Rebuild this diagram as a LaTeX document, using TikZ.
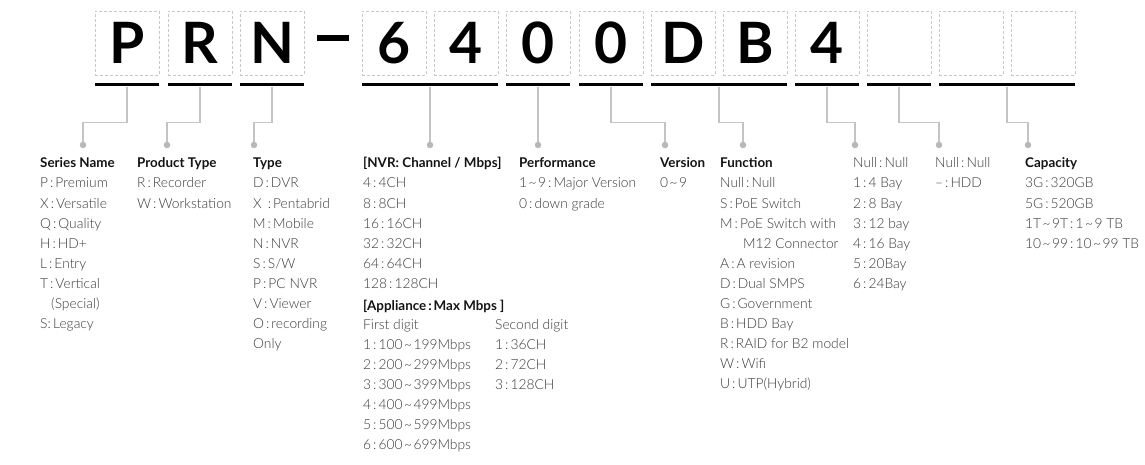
\documentclass[tikz,border=0pt]{standalone}
\usepackage{fontspec}
\setmainfont{Lato}
\IfFontExistsTF{Lato Light}
    {\newfontfamily\listfont{Lato Light}}
    {\newfontfamily\listfont{Lato}}
\usetikzlibrary{positioning}
\definecolor{ink}{RGB}{20,20,20}
\definecolor{body}{RGB}{58,58,58}
\definecolor{slotline}{RGB}{200,200,200}
\definecolor{leaderline}{RGB}{196,196,196}
\definecolor{dotfill}{RGB}{184,184,188}
\newcommand{\wave}{\kern1.5pt\textasciitilde\kern1.5pt}
\newcommand{\cl}{\kern2pt:\kern2pt}
\tikzset{
    slot/.style={
        draw=slotline,
        dash pattern=on 3pt off 2pt,
        line width=0.9pt,
        minimum width=64pt,
        minimum height=64pt,
        inner sep=0pt,
        font=\bfseries\fontsize{57}{57}\selectfont,
        text=black
    },
    bar/.style={
        fill=black,
        inner sep=0pt,
        minimum height=3pt
    },
    leader/.style={
        draw=leaderline,
        line width=1.2pt
    },
    tapdot/.style={
        circle,
        fill=dotfill,
        inner sep=0pt,
        minimum size=6.5pt
    },
    head/.style={
        font=\bfseries\fontsize{13.4}{15}\selectfont,
        text=ink,
        anchor=base west,
        inner sep=0pt
    },
    item/.style={
        font=\listfont\fontsize{13.8}{15}\selectfont,
        text=body,
        anchor=base west,
        inner sep=0pt
    }
}

\begin{document}
\begin{tikzpicture}[x=1pt, y=-1pt]

\path[fill=white, use as bounding box] (0,0) rectangle (1145,465);

% Code slots
\node[slot] (s1) at (127,43) {P};
\node[slot] (s2) at (200,43) {R};
\node[slot] (s3) at (272,43) {N};
\node[bar, minimum width=32pt, minimum height=6pt] (hyph) at (333,38) {};
\node[slot] (s4) at (394,43) {6};
\node[slot] (s5) at (466,43) {4};
\node[slot] (s6) at (538,43) {0};
\node[slot] (s7) at (611,43) {0};
\node[slot] (s8) at (683,43) {D};
\node[slot] (s9) at (755,43) {B};
\node[slot] (s10) at (827,43) {4};
\node[slot] (s11) at (899,43) {};
\node[slot] (s12) at (971,43) {};
\node[slot] (s13) at (1043,43) {};

% Underlines
\node[bar, minimum width=64pt] (u1) at (127,85) {};
\node[bar, minimum width=64pt] (u2) at (200,85) {};
\node[bar, minimum width=64pt] (u3) at (272,85) {};
\node[bar, minimum width=136pt] (u4) at (430,85) {};
\node[bar, minimum width=64pt] (u5) at (538,85) {};
\node[bar, minimum width=64pt] (u6) at (611,85) {};
\node[bar, minimum width=136pt] (u7) at (719,85) {};
\node[bar, minimum width=64pt] (u8) at (827,85) {};
\node[bar, minimum width=64pt] (u9) at (899,85) {};
\node[bar, minimum width=136pt] (u10) at (1007,85) {};

% Dots
\node[tapdot] (d1) at (83,145) {};
\node[tapdot] (d2) at (167,145) {};
\node[tapdot] (d3) at (254,145) {};
\node[tapdot] (d4) at (430,145) {};
\node[tapdot] (d5) at (538,145) {};
\node[tapdot] (d6) at (665,145) {};
\node[tapdot] (d7) at (743,145) {};
\node[tapdot] (d8) at (855,145) {};
\node[tapdot] (d9) at (939,145) {};
\node[tapdot] (d10) at (1028,145) {};

\foreach \k in {1,2,3,6,7,8,9,10}
    \draw[leader] (u\k.south) -- ++(0,35.5) -| (d\k);
\draw[leader] (u4.south) -- (d4);
\draw[leader] (u5.south) -- (d5);

% Series name
\node[head] (hsn) at (40,168) {Series Name};
\foreach \t [count=\i] in {P\cl Premium, X\cl Versatile, Q\cl Quality, H\cl HD+,
    L\cl Entry, T\cl Vertical, {\hspace*{11pt}(Special)}, S:\,Legacy}
    \node[item] (sn\i) at (40,168+20*\i) {\t};

% Product type
\node[head] (hpt) at (137,168) {Product Type};
\foreach \t [count=\i] in {R\cl Recorder, W\cl Workstation}
    \node[item] (pt\i) at (137,168+20*\i) {\t};

% Type
\node[head] (hty) at (253,168) {Type};
\foreach \t [count=\i] in {D\cl DVR, X\ \,:\kern2pt Pentabrid, M\cl Mobile, N\cl NVR,
    S\cl S/W, P\cl PC NVR, V\cl Viewer, O\cl recording, Only}
    \node[item] (ty\i) at (253,168+20*\i) {\t};

% Channel / Mbps
\node[head] (hch) at (363,168) {[NVR: Channel / Mbps]};
\foreach \t [count=\i] in {4\cl 4CH, 8\cl 8CH, 16\cl 16CH, 32\cl 32CH, 64\cl 64CH, 128\cl 128CH}
    \node[item] (ch\i) at (363,168+20*\i) {\t};
\node[head] (hap) at (363,310) {[Appliance\cl Max Mbps ]};
\node[item] (fd) at (363,329) {First digit};
\foreach \t [count=\i] in {1\cl 100\wave 199Mbps, 2\cl 200\wave 299Mbps, 3\cl 300\wave 399Mbps,
    4\cl 400\wave 499Mbps, 5\cl 500\wave 599Mbps, 6\cl 600\wave 699Mbps}
    \node[item] (fd\i) at (363,329+20*\i) {\t};
\node[item] (sd) at (495,329) {Second digit};
\foreach \t [count=\i] in {1\cl 36CH, 2\cl 72CH, 3\cl 128CH}
    \node[item] (sd\i) at (495,329+20*\i) {\t};

% Performance and version
\node[head] (hpf) at (519,168) {Performance};
\node[item] (pf1) at (519,188) {1\wave 9\cl Major Version};
\node[item] (pf2) at (519,208) {0\cl down grade};
\node[head] (hvr) at (660,168) {Version};
\node[item] (vr1) at (660,188) {0\wave 9};

% Function
\node[head] (hfn) at (720,168) {Function};
\foreach \t [count=\i] in {Null\cl Null, S\cl PoE Switch, M\cl PoE Switch with,
    {\hspace*{23pt}M12 Connector}, A\cl A revision, D\cl Dual SMPS, G\cl Government,
    B\cl HDD Bay, R\cl RAID for B2 model, W\cl Wifi, U\cl UTP(Hybrid)}
    \node[item] (fn\i) at (720,168+20*\i) {\t};

% Bay and HDD
\foreach \t [count=\i from 0] in {Null\cl Null, 1\cl 4 Bay, 2\cl 8 Bay, 3\cl 12 bay,
    4\cl 16 Bay, 5\cl 20Bay, 6\cl 24Bay}
    \node[item] (by\i) at (853,168+20*\i) {\t};
\node[item] (hd0) at (935,168) {Null\cl Null};
\node[item] (hd1) at (935,188) {–\cl HDD};

% Capacity
\node[head] (hcp) at (1025,168) {Capacity};
\foreach \t [count=\i] in {3G\cl 320GB, 5G\cl 520GB, 1T\wave 9T\cl 1\wave 9 TB, 10\wave 99\cl 10\wave 99 TB}
    \node[item] (cp\i) at (1025,168+20*\i) {\t};

\end{tikzpicture}
\end{document}
